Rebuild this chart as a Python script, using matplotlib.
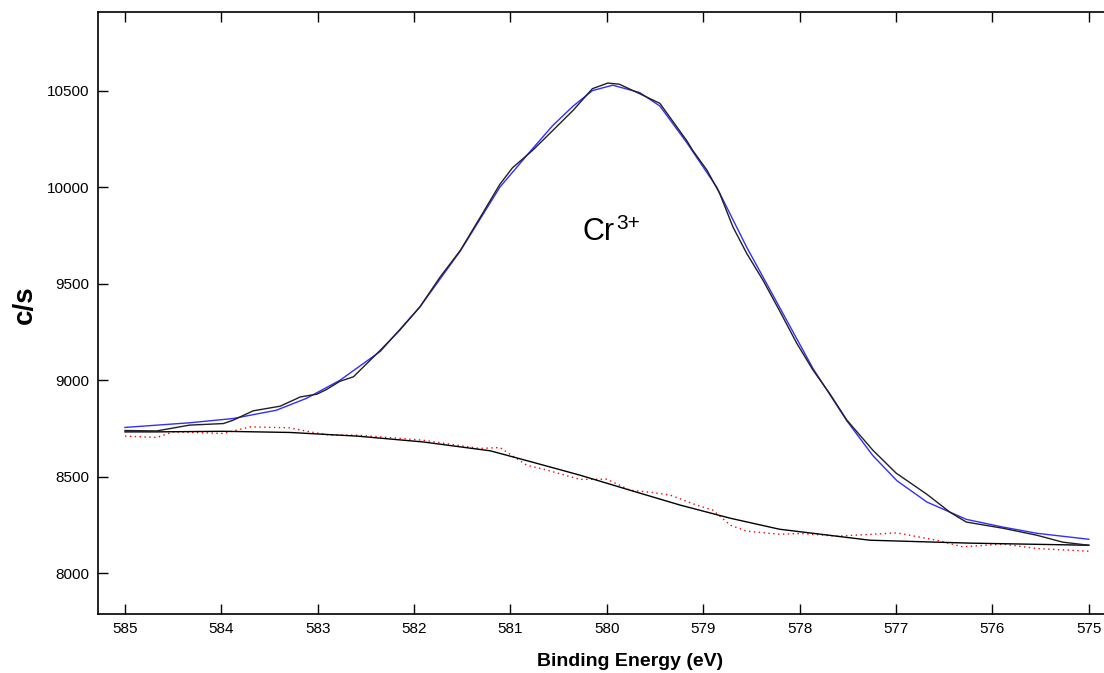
import matplotlib
matplotlib.use('Agg')
import matplotlib.pyplot as plt

plt.rcParams['font.family'] = ['Liberation Sans', 'DejaVu Sans']

# Measured spectrum (black)
data_e = [585.0, 584.67, 584.33, 583.98, 583.88, 583.67, 583.39, 583.18, 583.01, 582.91,
          582.77, 582.63, 582.35, 582.15, 581.94, 581.73, 581.52, 581.29, 581.11, 580.98,
          580.77, 580.56, 580.35, 580.15, 579.99, 579.87, 579.66, 579.45, 579.17, 579.11,
          578.96, 578.83, 578.69, 578.55, 578.38, 578.21, 578.03, 577.86, 577.69, 577.51,
          577.24, 577.0, 576.68, 576.44, 576.27, 575.89, 575.54, 575.27, 575.0]
data_cps = [8740, 8738, 8768, 8776, 8793, 8842, 8866, 8914, 8928, 8952,
            8995, 9018, 9156, 9259, 9380, 9535, 9673, 9864, 10015, 10100,
            10191, 10294, 10398, 10510, 10539, 10533, 10484, 10434, 10240, 10191,
            10087, 9968, 9792, 9658, 9518, 9362, 9192, 9052, 8933, 8794,
            8638, 8520, 8410, 8317, 8266, 8234, 8198, 8162, 8146]

# Fitted envelope (blue)
fit_e = [585.0, 584.33, 583.88, 583.43, 583.12, 582.77, 582.35, 581.94, 581.52, 581.11,
         580.77, 580.56, 580.35, 580.15, 579.94, 579.66, 579.45, 579.17, 578.86, 578.55,
         578.21, 577.86, 577.51, 577.24, 576.99, 576.68, 576.27, 575.89, 575.54, 575.0]
fit_cps = [8756, 8780, 8802, 8845, 8906, 9000, 9150, 9380, 9670, 10000,
           10200, 10320, 10420, 10500, 10528, 10490, 10420, 10230, 10000, 9690,
           9380, 9060, 8790, 8610, 8480, 8370, 8280, 8240, 8208, 8177]

# Background (black, smooth)
bg_e = [585.0, 584.67, 583.98, 583.29, 582.59, 581.91, 581.21, 580.8, 580.28, 579.76,
        579.24, 578.72, 578.21, 577.27, 576.24, 575.0]
bg_cps = [8733, 8733, 8736, 8730, 8711, 8681, 8635, 8580, 8509, 8431,
          8354, 8286, 8229, 8172, 8157, 8146]

# Residual-like trace (red dotted)
res_e = [585.0, 584.67, 584.5, 583.98, 583.7, 583.29, 583.08, 582.87, 582.59, 581.91,
         581.32, 581.11, 580.83, 580.62, 580.28, 580.0, 579.76, 579.52, 579.34, 579.07,
         578.9, 578.72, 578.55, 578.21, 577.99, 577.61, 576.99, 576.58, 576.31, 575.89,
         575.54, 574.99]
res_cps = [8711, 8704, 8733, 8725, 8759, 8754, 8733, 8716, 8716, 8690,
           8647, 8652, 8560, 8535, 8487, 8488, 8431, 8419, 8405, 8354,
           8328, 8250, 8219, 8203, 8207, 8193, 8210, 8172, 8138, 8152,
           8129, 8115]

x_ticks = [585, 584, 583, 582, 581, 580, 579, 578, 577, 576, 575]
y_ticks = [8000, 8500, 9000, 9500, 10000, 10500]

fig = plt.figure(figsize=(11.04, 6.73), dpi=100)
ax = fig.add_axes([98 / 1104, 1 - 614 / 673, (1162 - 98) / 1104, (614 - 12) / 673])

ax.plot(res_e, res_cps, color='red', lw=1, linestyle=(0, (1, 2.5)))
ax.plot(bg_e, bg_cps, color='black', lw=1)
ax.plot(fit_e, fit_cps, color='#2f2fff', lw=1)
ax.plot(data_e, data_cps, color='#202020', lw=1)

ax.set_xlim(585.28, 574.24)
ax.set_ylim(7790, 10907)
ax.set_xticks(x_ticks)
ax.set_yticks(y_ticks)
ax.tick_params(direction='in', length=7, width=1, labelsize=11, top=True, right=True, pad=6)
for s in ax.spines.values():
    s.set_linewidth(1.2)

ax.set_xlabel('Binding Energy (eV)', fontsize=14, fontweight='bold', labelpad=12)
fig.text(25 / 1104, 1 - 305 / 673, 'c/s', rotation=90, fontsize=20, fontweight='bold',
         ha='center', va='center')

# peak label: "Cr" with a larger-than-mathtext superscript
cr = ax.text(579.92, 9725, 'Cr', fontsize=22, ha='right', va='baseline')
ax.annotate('3+', xy=(1, 0.62), xycoords=cr, xytext=(1, 0), textcoords='offset points',
            fontsize=15, ha='left', va='baseline')

fig.savefig('out.png', dpi=100)
